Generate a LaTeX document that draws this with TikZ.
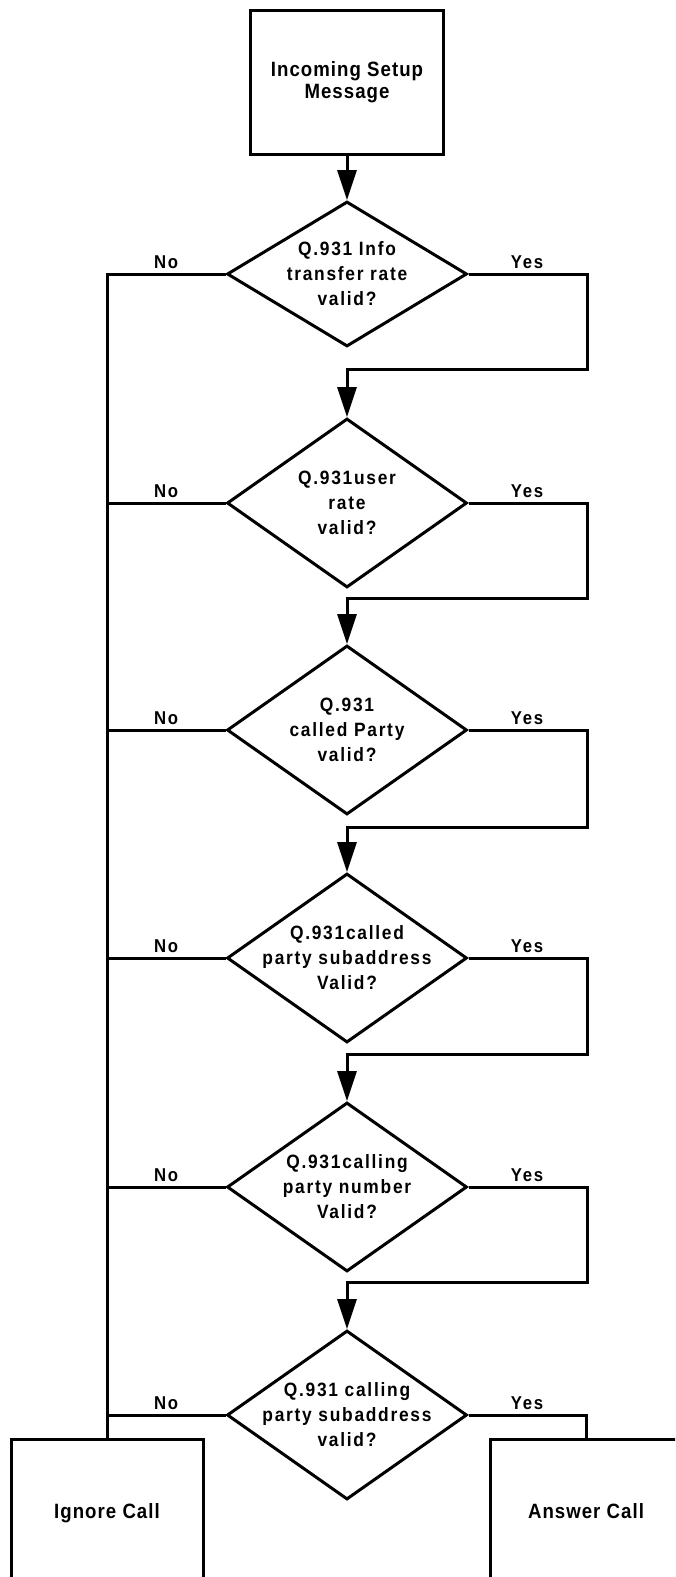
\documentclass[tikz,border=0pt]{standalone}
\usepackage{fontspec}
\setmainfont{Liberation Sans}
\newfontfamily\spacedfont{Liberation Sans}[LetterSpace=9,FakeStretch=0.9]
\newfontfamily\boxfont{Liberation Sans}[LetterSpace=5,FakeStretch=0.9]
\usetikzlibrary{shapes.geometric,arrows.meta}
\begin{document}
\begin{tikzpicture}[x=1pt,y=-1pt,line width=3pt,
  box/.style={draw,rectangle,minimum width=192pt,minimum height=144pt,inner sep=0pt,
    font=\boxfont\fontsize{20.7}{22.5}\selectfont\bfseries,align=center},
  dia/.style={draw,diamond,minimum width=240pt,minimum height=169pt,inner sep=0pt},
  txt/.style={inner sep=0pt,align=center,font=\spacedfont\fontsize{19.3}{25}\selectfont\bfseries},
  lbl/.style={inner sep=0pt,font=\spacedfont\fontsize{18.6}{22}\selectfont\bfseries},
  arr/.style={-{Triangle[length=30pt,width=19pt]}}]
\useasboundingbox (0,0) rectangle (675,1577);
\clip (0,0) rectangle (675,1577);

\node[box,minimum width=193pt] (top) at (347,82) {Incoming Setup\\Message};

\node[dia,minimum height=145pt] (d1) at (347,274) {};
\node[dia] (d2) at (347,503) {};
\node[dia] (d3) at (347,730) {};
\node[dia] (d4) at (347,958) {};
\node[dia] (d5) at (347,1187) {};
\node[dia] (d6) at (347,1415) {};

\node[txt] (t1) at (d1) {Q.931 Info\\transfer rate\\valid?};
\node[txt] (t2) at (d2) {Q.931user\\rate\\valid?};
\node[txt] (t3) at (d3) {Q.931\\called Party\\valid?};
\node[txt] (t4) at (d4) {Q.931called\\party subaddress\\Valid?};
\node[txt] (t5) at (d5) {Q.931calling\\party number\\Valid?};
\node[txt] (t6) at (d6) {Q.931 calling\\party subaddress\\valid?};

\node[box,text height=15pt,text depth=0pt] (ign) at (107,1511) {Ignore Call};
\node[box,text height=15pt,text depth=0pt] (ans) at (586,1511) {Answer Call};

% labels
\foreach \i/\y in {1/274,2/503,3/730,4/958,5/1187,6/1415}{
  \node[lbl] (no\i) at (166,\y-12) {No};
  \node[lbl] (yes\i) at (527,\y-12) {Yes};
}

% main arrow
\draw[arr] (top.south) -- (d1.north);

% yes connectors
\coordinate (R1) at (587,369);
\coordinate (R2) at (587,598);
\coordinate (R3) at (587,827);
\coordinate (R4) at (587,1054);
\coordinate (R5) at (587,1282);
\draw[arr] (d1.east) -| (R1) -| (d2.north);
\draw[arr] (d2.east) -| (R2) -| (d3.north);
\draw[arr] (d3.east) -| (R3) -| (d4.north);
\draw[arr] (d4.east) -| (R4) -| (d5.north);
\draw[arr] (d5.east) -| (R5) -| (d6.north);
\draw (d6.east) -| (ans.north);

% no connectors
\coordinate (L1) at (107,274);
\draw (d1.west) -- (L1) -- (ign.north);
\foreach \i in {2,3,4,5,6}{
  \draw (d\i.west) -- (d\i.west -| L1);
}
\end{tikzpicture}
\end{document}
